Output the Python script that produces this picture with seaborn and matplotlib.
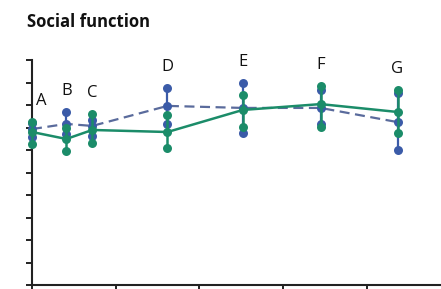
import matplotlib
matplotlib.use("Agg")
import matplotlib.pyplot as plt
import seaborn as sns
import pandas as pd

# ---- data ----
labels = ["A", "B", "C", "D", "E", "F", "G"]
times = [0.0, 0.41, 0.72, 1.62, 2.52, 3.45, 4.37]

green_mean = [68.0, 64.9, 68.9, 68.0, 77.8, 80.4, 76.9]
green_upper = [72.4, 69.8, 76.0, 75.6, 84.4, 88.4, 86.7]
green_lower = [62.7, 59.6, 63.1, 60.9, 70.2, 70.2, 67.6]

blue_mean = [69.3, 71.6, 70.7, 79.6, 78.7, 78.7, 72.4]
blue_upper = [72.0, 76.9, 73.3, 87.6, 89.8, 86.7, 85.3]
blue_lower = [65.8, 67.1, 66.2, 71.6, 67.6, 71.6, 60.0]

title = "Social function"

GREEN = "#1b8c69"
BLUE = "#3b5ba8"
DASH_COL = "#5a6b9c"

sns.set_theme(style="white")
plt.rcParams["font.family"] = ["Open Sans", "DejaVu Sans"]

fig = plt.figure(figsize=(4.41, 2.89), dpi=100)
ax = fig.add_axes([32 / 441, 4 / 289, 1 - 32 / 441, 225 / 289])

df = pd.DataFrame({
    "time": times * 2,
    "score": blue_mean + green_mean,
    "group": ["blue"] * len(times) + ["green"] * len(times),
})

# blue dashed series
sns.lineplot(data=df[df.group == "blue"], x="time", y="score", ax=ax,
             color=DASH_COL, lw=1.6, linestyle=(0, (4.5, 2.5)), zorder=2,
             errorbar=None, legend=False)
ax.vlines(times, blue_lower, blue_upper, color=BLUE, lw=1.6, zorder=2)
sns.scatterplot(x=times * 3, y=blue_mean + blue_upper + blue_lower, ax=ax,
                color=BLUE, s=42, linewidth=0, zorder=3, legend=False)

# green solid series
ax.vlines(times, green_lower, green_upper, color=GREEN, lw=1.8, zorder=4)
sns.lineplot(data=df[df.group == "green"], x="time", y="score", ax=ax,
             color=GREEN, lw=1.8, zorder=4, errorbar=None, legend=False)
sns.scatterplot(x=times * 3, y=green_mean + green_upper + green_lower, ax=ax,
                color=GREEN, s=42, linewidth=0, zorder=5, legend=False)

for c in ax.collections:
    c.set_clip_on(False)
for l in ax.lines:
    l.set_clip_on(False)

# letters above each time point
for i, lab in enumerate(labels):
    top = max(green_upper[i], blue_upper[i])
    dx = 7 if i == 0 else 0
    ax.annotate(lab, (times[i], top), xytext=(dx, 15), textcoords="offset points",
                ha="center", va="center", fontsize=12, color="#111111")

ax.set_xlim(0, 4.89)
ax.set_ylim(0, 100)
ax.set_xticks([0, 1, 2, 3, 4])
ax.set_yticks(range(0, 101, 10))
ax.set_xticklabels([])
ax.set_yticklabels([])
ax.set_xlabel("")
ax.set_ylabel("")
for s in ["top", "right"]:
    ax.spines[s].set_visible(False)
for s in ["left", "bottom"]:
    ax.spines[s].set_linewidth(1.5)
    ax.spines[s].set_color("#222222")
ax.tick_params(axis="both", direction="out", length=4, width=1.4,
               color="#222222", left=True, bottom=True)

fig.text(27 / 441, 1 - 22 / 289, title, fontsize=12, fontweight="bold",
         va="center", ha="left", color="#111111")

fig.savefig("out.png", dpi=100)
